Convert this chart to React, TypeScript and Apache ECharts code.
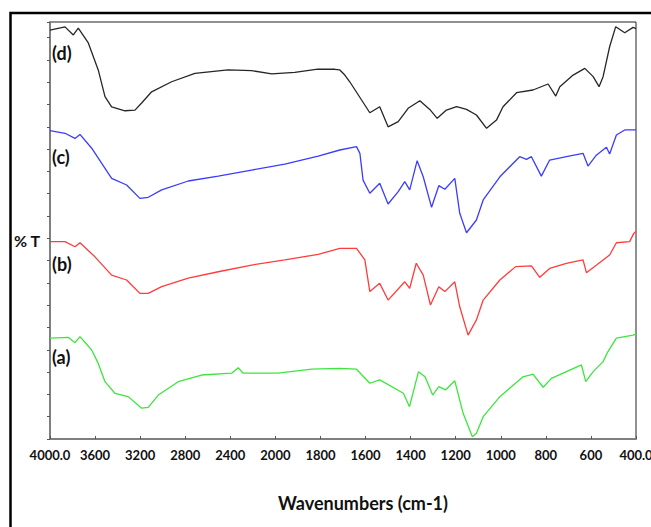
import React, { useEffect, useRef } from "react";
import * as echarts from "echarts";

// Tick labels of the (split-scale) wavenumber axis: 4000-2000 step 400, 2000-400 step 200
const X_TICK_LABELS = ["4000.0", "3600", "3200", "2800", "2400", "2000", "1800", "1600", "1400", "1200", "1000", "800", "600", "400.0"];

// (d) black
const waveD = [4000, 3867, 3793, 3749, 3660, 3572, 3512, 3453, 3335, 3246, 3187, 3098, 2921, 2714, 2421, 2211, 2033, 1914, 1812, 1736, 1714, 1692, 1670, 1581, 1537, 1500, 1455, 1411, 1359, 1315, 1282, 1241, 1196, 1152, 1108, 1063, 1019, 990, 930, 857, 790, 756, 738, 679, 627, 590, 564, 546, 517, 490, 450, 413, 400];
const tD = [18.34, 18.48, 18.12, 18.43, 17.76, 16.55, 15.35, 14.89, 14.72, 14.75, 15.07, 15.57, 16.02, 16.4, 16.55, 16.52, 16.37, 16.44, 16.59, 16.58, 16.55, 16.32, 16.02, 14.63, 14.9, 14.0, 14.23, 14.83, 15.17, 14.78, 14.38, 14.75, 14.9, 14.78, 14.53, 13.93, 14.3, 14.9, 15.53, 15.65, 15.92, 15.38, 15.8, 16.32, 16.62, 16.25, 15.8, 16.25, 17.59, 18.49, 18.22, 18.46, 18.4];

// (c) blue
const waveC = [4000, 3867, 3778, 3734, 3630, 3541, 3453, 3320, 3202, 3128, 3009, 2773, 2507, 2211, 1958, 1810, 1714, 1640, 1625, 1611, 1581, 1537, 1500, 1455, 1426, 1404, 1371, 1344, 1307, 1275, 1248, 1204, 1182, 1152, 1108, 1078, 1004, 916, 886, 864, 820, 783, 709, 635, 613, 575, 531, 517, 487, 450, 413, 400];
const tC = [13.83, 13.71, 13.48, 13.66, 13.04, 12.36, 11.69, 11.39, 10.79, 10.84, 11.17, 11.57, 11.79, 12.06, 12.33, 12.69, 12.96, 13.11, 12.81, 11.61, 11.02, 11.47, 10.54, 11.09, 11.54, 11.17, 12.48, 11.76, 10.39, 11.36, 11.2, 11.69, 10.12, 9.25, 9.82, 10.72, 11.76, 12.66, 12.54, 12.66, 11.79, 12.51, 12.66, 12.81, 12.24, 12.74, 13.08, 12.78, 13.63, 13.86, 13.86, 13.86];

// (b) red
const waveB = [4000, 3867, 3778, 3734, 3601, 3453, 3320, 3202, 3128, 3009, 2773, 2507, 2211, 1958, 1810, 1714, 1640, 1603, 1581, 1537, 1500, 1426, 1404, 1375, 1344, 1312, 1275, 1248, 1204, 1182, 1145, 1108, 1078, 1004, 934, 864, 827, 783, 709, 635, 620, 575, 517, 487, 428, 410, 400];
const tB = [8.85, 8.85, 8.62, 8.8, 8.17, 7.35, 7.13, 6.53, 6.53, 6.83, 7.21, 7.5, 7.8, 8.03, 8.28, 8.55, 8.55, 8.03, 6.61, 6.98, 6.23, 7.05, 6.76, 7.88, 7.35, 6.01, 6.83, 6.61, 7.05, 5.93, 4.66, 5.34, 6.23, 7.13, 7.73, 7.76, 7.25, 7.65, 7.88, 8.03, 7.46, 7.8, 8.25, 8.8, 8.85, 9.22, 9.3];

// (a) green
const waveA = [4000, 3838, 3778, 3734, 3630, 3572, 3512, 3424, 3306, 3187, 3128, 3039, 2862, 2655, 2388, 2330, 2286, 1988, 1839, 1714, 1640, 1581, 1537, 1432, 1405, 1365, 1336, 1302, 1275, 1245, 1204, 1167, 1126, 1108, 1078, 1004, 901, 857, 812, 775, 694, 642, 623, 590, 546, 525, 487, 413, 400];
const tA = [4.52, 4.56, 4.32, 4.59, 3.99, 3.39, 2.57, 2.05, 1.9, 1.38, 1.42, 1.97, 2.57, 2.87, 2.95, 3.2, 2.95, 2.95, 3.13, 3.17, 3.13, 2.5, 2.65, 2.05, 1.45, 3.02, 2.79, 1.97, 2.35, 2.2, 2.61, 1.15, 0.1, 0.26, 1.0, 1.9, 2.79, 2.91, 2.32, 2.72, 3.09, 3.32, 2.57, 3.02, 3.47, 3.91, 4.52, 4.66, 4.7];

const CURVE_LABELS = ["(d)", "(c)", "(b)", "(a)"];

// split-scale axis position
function waveToAxis(w: number): number {
  return w >= 2000 ? (4000 - w) / 400 : 5 + (2000 - w) / 200;
}

function toPoints(waves: number[], vals: number[]) {
  return waves.map((w, i) => [waveToAxis(w), vals[i]]);
}

export default function App() {
  const ref = useRef<HTMLDivElement>(null);
  useEffect(() => {
    if (!ref.current) return;
    const chart = echarts.init(ref.current, null, { renderer: "svg" });
    const font = "Lato, 'Open Sans', sans-serif";
    const mkLine = (name: string, color: string, waves: number[], vals: number[]) => ({
      name,
      type: "line",
      data: toPoints(waves, vals),
      showSymbol: false,
      symbol: "none",
      lineStyle: { color, width: 1.3 },
      itemStyle: { color },
      silent: true,
    });
    chart.setOption({
      animation: false,
      backgroundColor: "#ffffff",
      grid: {
        left: 50, right: 15, top: 22, bottom: 88,
        containLabel: false, outerBoundsMode: "none",
        show: true, borderColor: "#222", borderWidth: 1, backgroundColor: "transparent",
      },
      xAxis: {
        type: "value",
        min: 0,
        max: 13,
        interval: 1,
        axisLine: { show: true, lineStyle: { color: "#7f7f7f", width: 2 } },
        axisTick: { show: true, inside: true, length: 3, lineStyle: { color: "#555", width: 1 } },
        splitLine: { show: false },
        axisLabel: {
          show: true,
          margin: 9,
          color: "#111",
          fontFamily: font,
          fontWeight: "bold",
          fontSize: 13,
          hideOverlap: false,
          formatter: (v: number) => X_TICK_LABELS[Math.round(v)] ?? "",
        },
      },
      yAxis: {
        type: "value",
        min: 0,
        max: 18.7,
        interval: 1,
        axisLine: { show: true, lineStyle: { color: "#7f7f7f", width: 2 } },
        axisTick: { show: true, length: 3, lineStyle: { color: "#555", width: 1 } },
        axisLabel: { show: false },
        splitLine: { show: false },
      },
      series: [
        mkLine("(d)", "#262626", waveD, tD),
        mkLine("(c)", "#3c3cff", waveC, tC),
        mkLine("(b)", "#ff3c3c", waveB, tB),
        mkLine("(a)", "#3ce63c", waveA, tA),
      ],
      graphic: [
        { type: "rect", shape: { x: 10.5, y: 13, width: 700, height: 600 }, style: { fill: "none", stroke: "#000", lineWidth: 2.5 }, silent: true },
        { type: "text", left: 14, top: 232, style: { text: "% T", font: `bold 16px ${font}`, fill: "#111" } },
        { type: "text", x: 52, y: 53, style: { text: CURVE_LABELS[0], font: `bold 18px ${font}`, fill: "#111", textVerticalAlign: "middle" } },
        { type: "text", x: 52, y: 157, style: { text: CURVE_LABELS[1], font: `bold 18px ${font}`, fill: "#111", textVerticalAlign: "middle" } },
        { type: "text", x: 52, y: 264, style: { text: CURVE_LABELS[2], font: `bold 18px ${font}`, fill: "#111", textVerticalAlign: "middle" } },
        { type: "text", x: 52, y: 357, style: { text: CURVE_LABELS[3], font: `bold 18px ${font}`, fill: "#111", textVerticalAlign: "middle" } },
        { type: "text", x: 363, y: 503, style: { text: "Wavenumbers (cm-1)", font: `bold 18px ${font}`, fill: "#111", textAlign: "center", textVerticalAlign: "middle" } },
      ],
    });
    return () => chart.dispose();
  }, []);
  return <div ref={ref} style={{ position: "absolute", left: 0, top: 0, width: 651, height: 527 }} />;
}
